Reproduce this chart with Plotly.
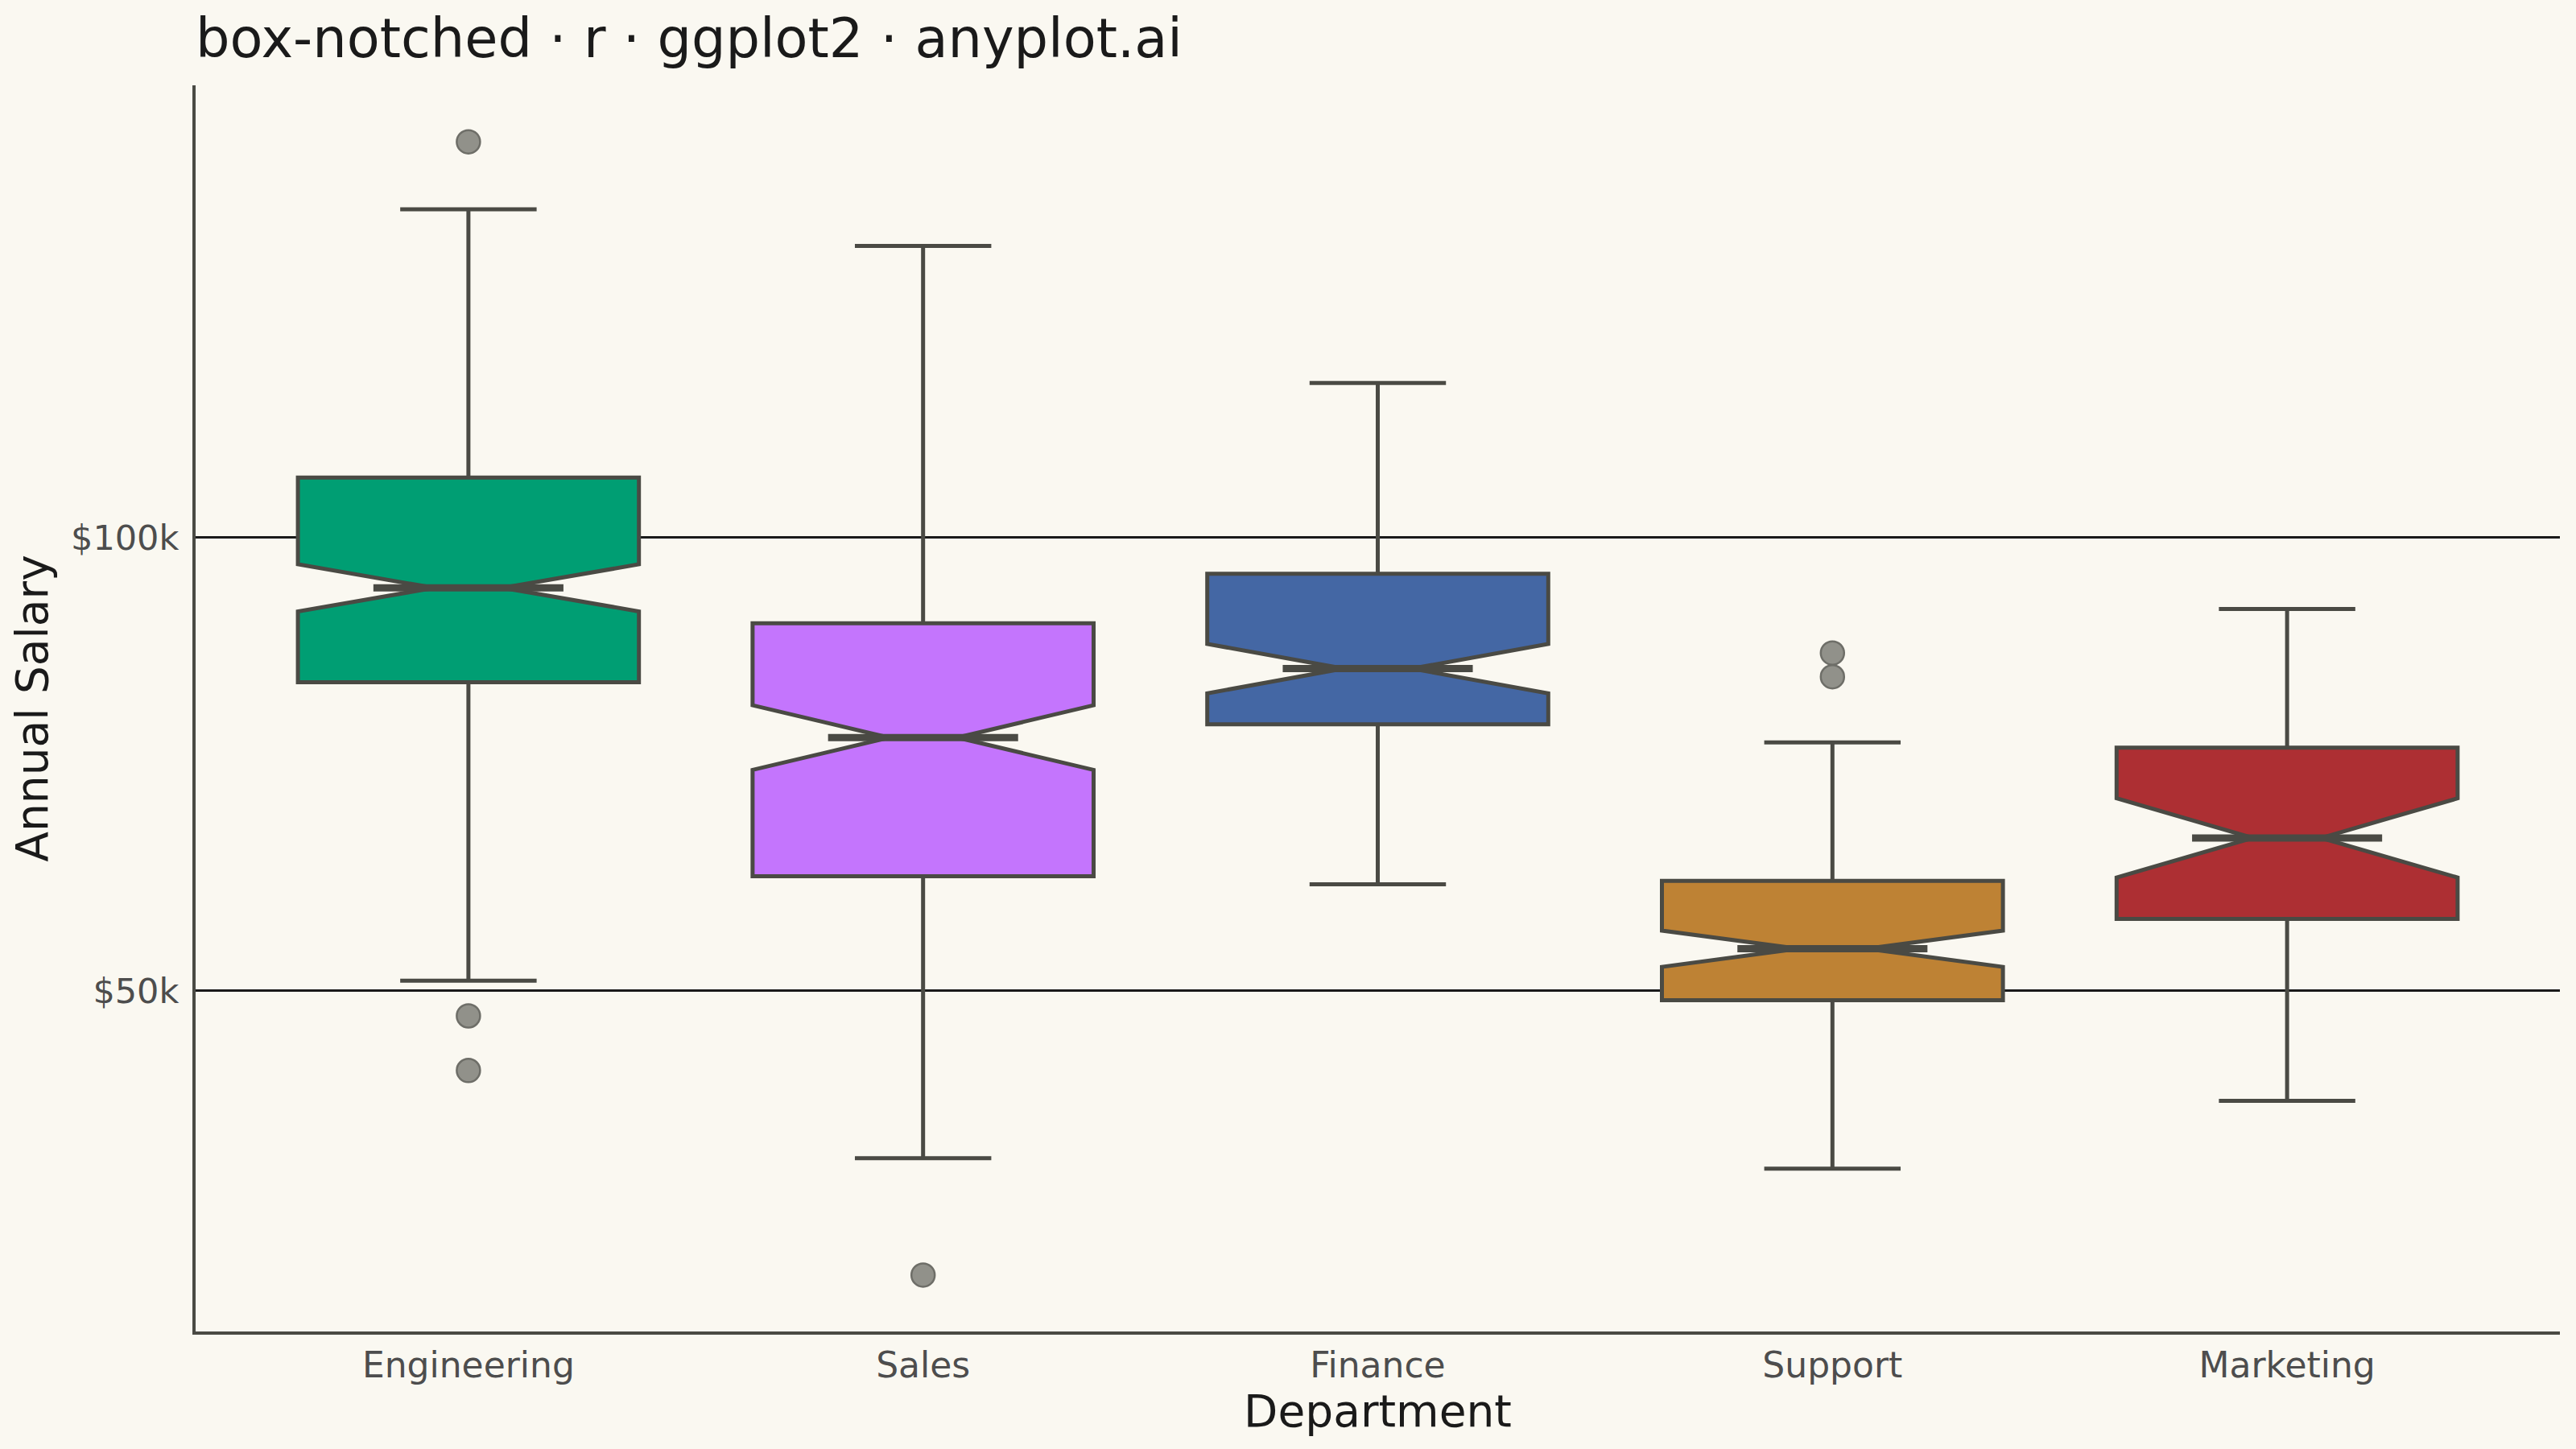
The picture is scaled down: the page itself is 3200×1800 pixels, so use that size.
import plotly.graph_objects as go

departments = ["Engineering", "Sales", "Finance", "Support", "Marketing"]
lower_whisker = [51120, 31540, 61750, 30380, 37860]
q1 = [84050, 62630, 79400, 48960, 57930]
median = [94460, 77940, 85550, 54640, 66870]
q3 = [106640, 90550, 96010, 62120, 76830]
upper_whisker = [136240, 132190, 117070, 77410, 92130]
notch_span = [2600, 3570, 2730, 2000, 4370]
outliers = [[143680, 47230, 41210], [18630], [], [87270, 84650], []]
colors = ["#009E73", "#C475FD", "#4467A4", "#BE8234", "#AD2F33"]

BG = "#FAF8F1"
INK = "#4A4A44"
FONT = "DejaVu Sans"
BOX_WIDTH = 0.75
NOTCH_WIDTH = 0.4

fig = go.Figure()

for i, dep in enumerate(departments):
    fig.add_trace(go.Box(
        x=[i],
        q1=[q1[i]], median=[median[i]], q3=[q3[i]],
        lowerfence=[lower_whisker[i]], upperfence=[upper_whisker[i]],
        notchspan=[notch_span[i]],
        notched=True, notchwidth=NOTCH_WIDTH,
        width=BOX_WIDTH, whiskerwidth=0.4,
        fillcolor=colors[i],
        line=dict(color=INK, width=5),
        boxpoints=False, name=dep, showlegend=False,
        hoverinfo="skip",
    ))

# thicker median segments (ggplot draws the median bolder)
half = BOX_WIDTH / 2 * (1 - NOTCH_WIDTH) - 0.016
for i, dep in enumerate(departments):
    fig.add_trace(go.Scatter(
        x=[i - half, i + half], y=[median[i], median[i]],
        mode="lines", line=dict(color=INK, width=9),
        showlegend=False, hoverinfo="skip",
    ))

# outliers
ox, oy = [], []
for i, vals in enumerate(outliers):
    for v in vals:
        ox.append(i)
        oy.append(v)
fig.add_trace(go.Scatter(
    x=ox, y=oy, mode="markers",
    marker=dict(size=29, color="#91918A", line=dict(color="#6E6E68", width=2.5)),
    showlegend=False, hoverinfo="skip",
))

fig.update_layout(
    width=3200, height=1800,
    margin=dict(l=243, r=20, t=106, b=146),
    paper_bgcolor=BG, plot_bgcolor=BG,
    font=dict(family=FONT, color="#1A1A1A"),
    title=dict(
        text="box-notched · r · ggplot2 · anyplot.ai",
        font=dict(size=67, color="#1A1A1A", family=FONT),
        x=243 / 3200, xref="container", xanchor="left",
        y=1 - 48 / 1800, yref="container", yanchor="middle",
    ),
    showlegend=False,
)

fig.update_xaxes(
    range=[-0.6, 4.6],
    tickvals=list(range(len(departments))), ticktext=departments,
    showgrid=False, zeroline=False,
    showline=True, linecolor=INK, linewidth=4,
    ticks="", ticklabelstandoff=0,
    tickfont=dict(size=44, color="#4D4D4D", family=FONT),
    title=dict(text="Department", font=dict(size=55, color="#1A1A1A", family=FONT), standoff=6),
)

fig.update_yaxes(
    range=[12410, 149910],
    tickvals=[50000, 100000], ticktext=["$50k", "$100k"],
    showgrid=True, gridcolor="#1A1A1A", gridwidth=2.5,
    zeroline=False,
    showline=True, linecolor=INK, linewidth=4,
    ticks="", ticklabelstandoff=8,
    tickfont=dict(size=43, color="#4D4D4D", family=FONT),
    title=dict(text="Annual Salary", font=dict(size=55, color="#1A1A1A", family=FONT), standoff=12),
)

fig.write_html(
    "out.html",
    config={"displayModeBar": False},
    post_script="document.body.style.margin='0';document.body.style.background='" + BG + "';document.body.style.overflow='hidden';",
)
